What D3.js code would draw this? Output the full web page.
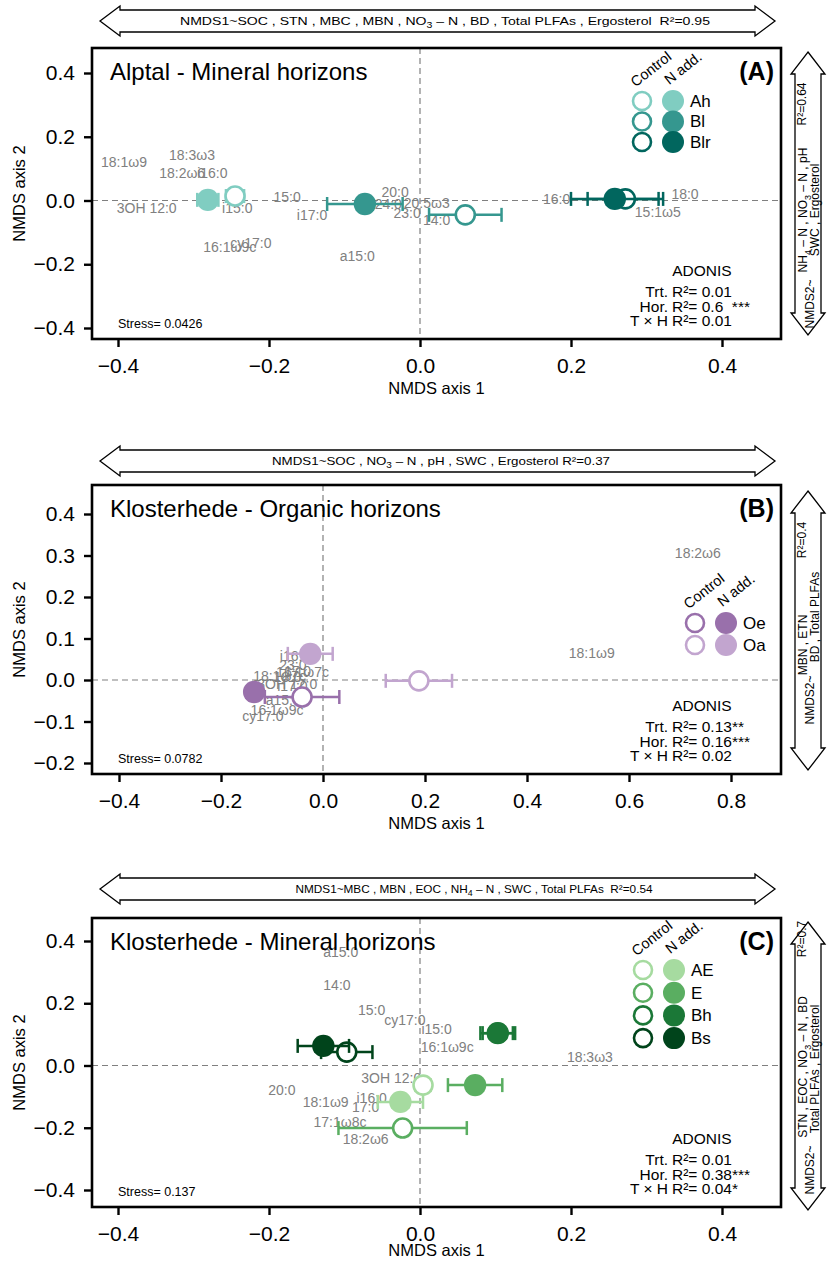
<!DOCTYPE html>
<html>
<head>
<meta charset="utf-8">
<script src="https://cdn.jsdelivr.net/npm/d3@7"></script>
<style>
body { margin: 0; background: #fff; }
svg { display: block; font-family: "Liberation Sans", Arial, Helvetica, sans-serif; }
</style>
</head>
<body>
<svg width="828" height="1269"></svg>
<script>
// ---------- Data ----------
// Panel A - Alptal mineral horizons
const a_horizons = ['Ah', 'Bl', 'Blr'];
const a_colors = ['#80cdc1', '#35978f', '#01665e'];
const a_ctrl_x = [-0.245, 0.060, 0.272];
const a_ctrl_y = [0.014, -0.045, 0.005];
const a_ctrl_ex = [0.012, 0.048, 0.050];
const a_ctrl_ey = [0.018, 0, 0];
const a_nadd_x = [-0.281, -0.073, 0.258];
const a_nadd_y = [0.002, -0.011, 0.005];
const a_nadd_ex = [0.014, 0.050, 0.058];
const a_nadd_ey = [0.018, 0, 0];
const a_plfa = ['18:1ω9', '18:3ω3', '18:2ω6', 'i16:0', '3OH 12:0', 'i15:0', '15:0', 'i17:0', '16:1ω9c', 'cy17:0',
  'a15:0', '20:0', '24:0', '20:5ω3', '23:0', '14:0', '16:0', '18:0', '15:1ω5'];
const a_plfa_x = [-0.392, -0.302, -0.315, -0.275, -0.362, -0.242, -0.176, -0.143, -0.252, -0.224,
  -0.083, -0.033, -0.042, 0.009, -0.017, 0.022, 0.181, 0.351, 0.315];
const a_plfa_y = [0.121, 0.143, 0.086, 0.086, -0.024, -0.024, 0.011, -0.045, -0.146, -0.133,
  -0.174, 0.027, -0.011, -0.008, -0.039, -0.061, 0.005, 0.020, -0.036];
const a_x_ticks = [-0.4, -0.2, 0.0, 0.2, 0.4];
const a_y_ticks = [-0.4, -0.2, 0.0, 0.2, 0.4];
const a_adonis = [['Trt.', 'R²= 0.01'], ['Hor.', 'R²= 0.6\u00a0\u00a0***'], ['T × H', 'R²= 0.01']];

// Panel B - Klosterhede organic horizons
const b_horizons = ['Oe', 'Oa'];
const b_colors = ['#9970ab', '#c2a5cf'];
const b_ctrl_x = [-0.041, 0.188];
const b_ctrl_y = [-0.041, -0.002];
const b_ctrl_ex = [0.073, 0.065];
const b_ctrl_ey = [0, 0];
const b_nadd_x = [-0.135, -0.025];
const b_nadd_y = [-0.029, 0.063];
const b_nadd_ex = [0, 0.044];
const b_nadd_ey = [0, 0];
const b_plfa = ['18:2ω6', '18:1ω9', 'i16:0', '23:0', '17:0', '16:1ω7c', '18:1ω7c', '18:0', '3OH 12:0', 'i17:0',
  'a15:0', '16:1ω9c', 'cy17:0'];
const b_plfa_x = [0.735, 0.527, -0.055, -0.059, -0.050, -0.040, -0.085, -0.070, -0.070, -0.060,
  -0.078, -0.090, -0.118];
const b_plfa_y = [0.306, 0.065, 0.058, 0.036, 0.022, 0.020, 0.010, 0.006, -0.010, -0.014,
  -0.048, -0.073, -0.088];
const b_x_ticks = [-0.4, -0.2, 0.0, 0.2, 0.4, 0.6, 0.8];
const b_y_ticks = [-0.2, -0.1, 0.0, 0.1, 0.2, 0.3, 0.4];
const b_adonis = [['Trt.', 'R²= 0.13**'], ['Hor.', 'R²= 0.16***'], ['T × H', 'R²= 0.02']];

// Panel C - Klosterhede mineral horizons
const c_horizons = ['AE', 'E', 'Bh', 'Bs'];
const c_colors = ['#a6dba0', '#5aae61', '#1b7837', '#00441b'];
const c_ctrl_x = [0.004, -0.023, 0.103, -0.097];
const c_ctrl_y = [-0.063, -0.201, 0.104, 0.043];
const c_ctrl_ex = [0.010, 0.085, 0.020, 0.034];
const c_ctrl_ey = [0.020, 0, 0.015, 0];
const c_nadd_x = [-0.026, 0.073, 0.103, -0.128];
const c_nadd_y = [-0.117, -0.063, 0.104, 0.063];
const c_nadd_ex = [0.030, 0.036, 0.023, 0.034];
const c_nadd_ey = [0, 0, 0.015, 0];
const c_plfa = ['a15:0', '14:0', '15:0', 'cy17:0', 'i15:0', '16:1ω9c', '18:3ω3', '3OH 12:0', '20:0', '18:1ω9',
  'i16:0', '17:0', '17:1ω8c', '18:2ω6'];
const c_plfa_x = [-0.105, -0.110, -0.064, -0.020, 0.022, 0.036, 0.225, -0.038, -0.183, -0.125,
  -0.064, -0.072, -0.106, -0.072];
const c_plfa_y = [0.363, 0.257, 0.177, 0.145, 0.116, 0.058, 0.026, -0.039, -0.080, -0.116,
  -0.106, -0.135, -0.183, -0.238];
const c_x_ticks = [-0.4, -0.2, 0.0, 0.2, 0.4];
const c_y_ticks = [-0.4, -0.2, 0.0, 0.2, 0.4];
const c_adonis = [['Trt.', 'R²= 0.01'], ['Hor.', 'R²= 0.38***'], ['T × H', 'R²= 0.04*']];

// ---------- Layout ----------
const svg = d3.select('svg');
const box_left = 92;
const box_right = 781;
const label_color = '#808080';
const fmt = d3.format('.1f');
const sp = '\u00a0';

const panels = [
  {
    title: 'Alptal - Mineral horizons', tag: '(A)', stress: 'Stress= 0.0426',
    top: 48, bottom: 339, titleGap: 55,
    x: d3.scaleLinear().domain([-0.4, 0.4]).range([118, 722]),
    y: d3.scaleLinear().domain([-0.4, 0.4]).range([328, 73]),
    xTicks: a_x_ticks, yTicks: a_y_ticks,
    horizons: a_horizons, colors: a_colors,
    ctrl: { x: a_ctrl_x, y: a_ctrl_y, ex: a_ctrl_ex, ey: a_ctrl_ey },
    nadd: { x: a_nadd_x, y: a_nadd_y, ex: a_nadd_ex, ey: a_nadd_ey },
    plfa: a_plfa, plfaX: a_plfa_x, plfaY: a_plfa_y,
    adonis: a_adonis,
    legend: { x: 642, y: 101, dy: 20.5 },
    topArrow: { cy: 21, textX: 445, textLen: 530,
      parts: [['NMDS1~SOC , STN , MBC , MBN , NO'], ['3', 'sub'], [' – N , BD , Total PLFAs , Ergosterol' + sp + sp + 'R²=0.95']] },
    rightArrow: { y1: 52, y2: 335,
      line1: [['NH'], ['4', 'sub'], [' – N , NO'], ['3', 'sub'], [' – N , pH']], line1C: 210,
      line2: [['SWC , Ergosterol']], line2C: 210,
      prefixC: 304, r2: 'R²=0.64', r2C: 104 }
  },
  {
    title: 'Klosterhede - Organic horizons', tag: '(B)', stress: 'Stress= 0.0782',
    top: 485, bottom: 774, titleGap: 55,
    x: d3.scaleLinear().domain([-0.4, 0.8]).range([119, 731]),
    y: d3.scaleLinear().domain([-0.2, 0.4]).range([763, 514]),
    xTicks: b_x_ticks, yTicks: b_y_ticks,
    horizons: b_horizons, colors: b_colors,
    ctrl: { x: b_ctrl_x, y: b_ctrl_y, ex: b_ctrl_ex, ey: b_ctrl_ey },
    nadd: { x: b_nadd_x, y: b_nadd_y, ex: b_nadd_ex, ey: b_nadd_ey },
    plfa: b_plfa, plfaX: b_plfa_x, plfaY: b_plfa_y,
    adonis: b_adonis,
    legend: { x: 695, y: 623, dy: 22 },
    topArrow: { cy: 461, textX: 441, textLen: 338,
      parts: [['NMDS1~SOC , NO'], ['3', 'sub'], [' – N , pH , SWC , Ergosterol R²=0.37']] },
    rightArrow: { y1: 491, y2: 770,
      line1: [['MBN , ETN']], line1C: 645,
      line2: [['BD , Total PLFAs']], line2C: 617,
      prefixC: 700, r2: 'R²=0.4', r2C: 540 }
  },
  {
    title: 'Klosterhede - Mineral horizons', tag: '(C)', stress: 'Stress= 0.137',
    top: 918, bottom: 1207, titleGap: 49,
    x: d3.scaleLinear().domain([-0.4, 0.4]).range([118, 722]),
    y: d3.scaleLinear().domain([-0.4, 0.4]).range([1190, 941]),
    xTicks: c_x_ticks, yTicks: c_y_ticks,
    horizons: c_horizons, colors: c_colors,
    ctrl: { x: c_ctrl_x, y: c_ctrl_y, ex: c_ctrl_ex, ey: c_ctrl_ey },
    nadd: { x: c_nadd_x, y: c_nadd_y, ex: c_nadd_ex, ey: c_nadd_ey },
    plfa: c_plfa, plfaX: c_plfa_x, plfaY: c_plfa_y,
    adonis: c_adonis,
    legend: { x: 643, y: 970, dy: 22.7 },
    topArrow: { cy: 889, textX: 474, textLen: 357,
      parts: [['NMDS1~MBC , MBN , EOC , NH'], ['4', 'sub'], [' – N , SWC , Total PLFAs' + sp + sp + 'R²=0.54']] },
    rightArrow: { y1: 922, y2: 1210,
      line1: [['STN , EOC , NO'], ['3', 'sub'], [' – N , BD']], line1C: 1067,
      line2: [['Total PLFAs , Ergosterol']], line2C: 1069,
      prefixC: 1170, r2: 'R²=0.7', r2C: 939 }
  }
];

// text with sub-scripts built from [text, kind] parts
const richText = (sel, parts, size) => {
  parts.forEach(p => {
    if (p[1] === 'sub') {
      sel.append('tspan').attr('dy', size * 0.3).attr('font-size', size * 0.75).text(p[0]);
    } else {
      const t = sel.append('tspan').text(p[0]);
      if (sel.selectAll('tspan').size() > 1) t.attr('dy', -size * 0.3);
    }
  });
  return sel;
};

const hArrow = (g, x1, x2, cy) => {
  const H = 15, S = 11, L = 20;
  g.append('polygon')
    .attr('points', [[x1, cy], [x1 + L, cy - H], [x1 + L, cy - S], [x2 - L, cy - S], [x2 - L, cy - H], [x2, cy],
      [x2 - L, cy + H], [x2 - L, cy + S], [x1 + L, cy + S], [x1 + L, cy + H]].map(p => p.join(',')).join(' '))
    .attr('fill', 'white').attr('stroke', 'black').attr('stroke-width', 1.3).attr('stroke-linejoin', 'miter');
};

const vArrow = (g, cx, y1, y2) => {
  const H = 17, S = 13, L = 22;
  g.append('polygon')
    .attr('points', [[cx, y1], [cx + H, y1 + L], [cx + S, y1 + L], [cx + S, y2 - L], [cx + H, y2 - L], [cx, y2],
      [cx - H, y2 - L], [cx - S, y2 - L], [cx - S, y1 + L], [cx - H, y1 + L]].map(p => p.join(',')).join(' '))
    .attr('fill', 'white').attr('stroke', 'black').attr('stroke-width', 1.3);
};

const drawPoints = (g, p, set, open) => {
  p.horizons.forEach((h, i) => {
    const cx = p.x(set.x[i]);
    const cy = p.y(set.y[i]);
    const col = p.colors[i];
    const ex = set.ex[i], ey = set.ey[i];
    const cap = 7;
    if (ex > 0) {
      const xa = p.x(set.x[i] - ex), xb = p.x(set.x[i] + ex);
      g.append('line').attr('x1', xa).attr('x2', xb).attr('y1', cy).attr('y2', cy)
        .attr('stroke', col).attr('stroke-width', 2.5);
      [xa, xb].forEach(xx => g.append('line').attr('x1', xx).attr('x2', xx)
        .attr('y1', cy - cap).attr('y2', cy + cap).attr('stroke', col).attr('stroke-width', 2.5));
    }
    if (ey > 0) {
      const ya = p.y(set.y[i] - ey), yb = p.y(set.y[i] + ey);
      g.append('line').attr('x1', cx).attr('x2', cx).attr('y1', ya).attr('y2', yb)
        .attr('stroke', col).attr('stroke-width', 2.5);
      [ya, yb].forEach(yy => g.append('line').attr('y1', yy).attr('y2', yy)
        .attr('x1', cx - cap).attr('x2', cx + cap).attr('stroke', col).attr('stroke-width', 2.5));
    }
    if (open) {
      g.append('circle').attr('cx', cx).attr('cy', cy).attr('r', 9.5)
        .attr('fill', 'white').attr('stroke', col).attr('stroke-width', 2.6);
    } else {
      g.append('circle').attr('cx', cx).attr('cy', cy).attr('r', 11.2).attr('fill', col);
    }
  });
};

const render = () => {
  panels.forEach(p => {
    const g = svg.append('g');
    const midX = (box_left + box_right) / 2;

    // Top arrow with NMDS1 correlates
    hArrow(g, 100, 775, p.topArrow.cy);
    richText(g.append('text')
      .attr('x', p.topArrow.textX).attr('y', p.topArrow.cy + 4)
      .attr('text-anchor', 'middle')
      .attr('font-family', '"Liberation Sans Narrow", "Liberation Sans", Arial, sans-serif')
      .attr('font-size', 11.5)
      .attr('textLength', p.topArrow.textLen).attr('lengthAdjust', 'spacingAndGlyphs'),
      p.topArrow.parts, 11.5);

    // Right arrow with NMDS2 correlates
    const ra = p.rightArrow;
    vArrow(g, 808, ra.y1, ra.y2);
    const vtext = (x, yc, parts) => richText(g.append('text')
      .attr('transform', `translate(${x},${yc}) rotate(-90)`)
      .attr('text-anchor', 'middle').attr('font-size', 12), parts, 12);
    vtext(807, ra.line1C, ra.line1);
    vtext(819, ra.line2C, ra.line2);
    vtext(814, ra.prefixC, [['NMDS2~']]);
    vtext(806, ra.r2C, [[ra.r2]]);

    // Zero lines
    g.append('line').attr('x1', p.x(0)).attr('x2', p.x(0)).attr('y1', p.top).attr('y2', p.bottom)
      .attr('stroke', '#808080').attr('stroke-width', 1.2).attr('stroke-dasharray', '6,4');
    g.append('line').attr('x1', box_left).attr('x2', box_right).attr('y1', p.y(0)).attr('y2', p.y(0))
      .attr('stroke', '#808080').attr('stroke-width', 1.2).attr('stroke-dasharray', '6,4');

    // PLFA labels
    g.selectAll(null).data(p.plfa).enter().append('text')
      .attr('x', (d, i) => p.x(p.plfaX[i]))
      .attr('y', (d, i) => p.y(p.plfaY[i]))
      .attr('dy', '0.35em')
      .attr('text-anchor', 'middle')
      .attr('font-size', 14)
      .attr('fill', label_color)
      .text(d => d);

    // Group centroids with error bars
    drawPoints(g, p, p.ctrl, true);
    drawPoints(g, p, p.nadd, false);

    // Frame
    g.append('rect').attr('x', box_left).attr('y', p.top)
      .attr('width', box_right - box_left).attr('height', p.bottom - p.top)
      .attr('fill', 'none').attr('stroke', 'black').attr('stroke-width', 2.6);

    // Axes
    const xAxis = g.append('g').attr('transform', `translate(0,${p.bottom})`)
      .call(d3.axisBottom(p.x).tickValues(p.xTicks).tickFormat(fmt).tickSize(8).tickPadding(11));
    const yAxis = g.append('g').attr('transform', `translate(${box_left},0)`)
      .call(d3.axisLeft(p.y).tickValues(p.yTicks).tickFormat(fmt).tickSize(8).tickPadding(9));
    [xAxis, yAxis].forEach(a => {
      a.select('.domain').remove();
      a.selectAll('line').attr('stroke', 'black').attr('stroke-width', 2.4);
      a.selectAll('text').attr('font-size', 21).attr('fill', 'black')
        .attr('font-family', '"Liberation Sans", Arial, sans-serif');
    });
    g.append('text').attr('x', midX).attr('y', p.bottom + p.titleGap)
      .attr('text-anchor', 'middle').attr('font-size', 16.5).text('NMDS axis 1');
    g.append('text').attr('transform', `translate(25,${(p.top + p.bottom) / 2}) rotate(-90)`)
      .attr('text-anchor', 'middle').attr('font-size', 16.5).text('NMDS axis 2');

    // Title and tag
    g.append('text').attr('x', 110).attr('y', p.top + 32)
      .attr('font-size', 24).text(p.title);
    g.append('text').attr('x', 774).attr('y', p.top + 32)
      .attr('text-anchor', 'end').attr('font-size', 25).attr('font-weight', 'bold').text(p.tag);

    // Stress
    g.append('text').attr('x', 118).attr('y', p.bottom - 11)
      .attr('font-size', 12.5).text(p.stress);

    // ADONIS table
    g.append('text').attr('x', 702).attr('y', p.bottom - 63)
      .attr('text-anchor', 'middle').attr('font-size', 15.5).text('ADONIS');
    p.adonis.forEach((row, i) => {
      const yy = p.bottom - 42 + i * 14.5;
      g.append('text').attr('x', 668).attr('y', yy).attr('text-anchor', 'end')
        .attr('font-size', 15.5).text(row[0]);
      g.append('text').attr('x', 672).attr('y', yy).attr('font-size', 15.5).text(row[1]);
    });

    // Legend
    const lg = p.legend;
    g.append('text').attr('transform', `translate(${lg.x + 12},${lg.y - 28}) rotate(-38)`)
      .attr('text-anchor', 'middle').attr('font-size', 14.5).text('Control');
    g.append('text').attr('transform', `translate(${lg.x + 44},${lg.y - 29}) rotate(-38)`)
      .attr('text-anchor', 'middle').attr('font-size', 14.5).text('N add.');
    p.horizons.forEach((h, i) => {
      const yy = lg.y + i * lg.dy;
      g.append('circle').attr('cx', lg.x).attr('cy', yy).attr('r', 9)
        .attr('fill', 'white').attr('stroke', p.colors[i]).attr('stroke-width', 2.6);
      g.append('circle').attr('cx', lg.x + 31).attr('cy', yy).attr('r', 11).attr('fill', p.colors[i]);
      g.append('text').attr('x', lg.x + 48).attr('y', yy).attr('dy', '0.35em')
        .attr('font-size', 17).text(h);
    });
  });
};

render();
</script>
</body>
</html>
